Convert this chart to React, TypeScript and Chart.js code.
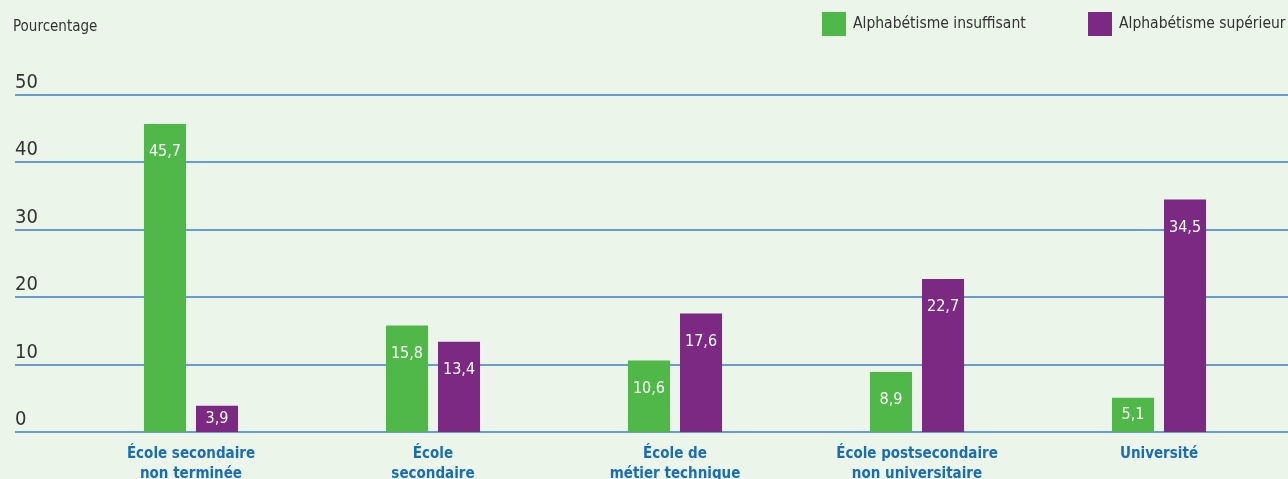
import React, { useEffect, useRef } from "react";
import { Chart, registerables } from "chart.js";

Chart.register(...registerables);

const categories: string[][] = [
  ["École secondaire", "non terminée"],
  ["École", "secondaire"],
  ["École de", "métier technique"],
  ["École postsecondaire", "non universitaire"],
  ["Université"],
];
const seriesNames = ["Alphabétisme insuffisant", "Alphabétisme supérieur"];
const insuffisant = [45.7, 15.8, 10.6, 8.9, 5.1];
const superieur = [3.9, 13.4, 17.6, 22.7, 34.5];
const yTicks = [0, 10, 20, 30, 40, 50];
const yTitle = "Pourcentage";

const GREEN = "#50b848";
const PURPLE = "#7b2983";
const BG = "#ebf5ea";
const GRID = "#3a7fc4";
const FONT = "'Liberation Sans Narrow', 'DejaVu Sans Condensed', 'Roboto Condensed', 'Liberation Sans', sans-serif";

const fmt = (v: number) => v.toFixed(1).replace(".", ",");

const overlay = {
  id: "overlay",
  beforeDraw(chart: any) {
    const { ctx, width, height } = chart;
    ctx.save();
    ctx.fillStyle = BG;
    ctx.fillRect(0, 0, width, height);
    const y = chart.scales.y;
    ctx.strokeStyle = GRID;
    ctx.lineWidth = 1.3;
    ctx.fillStyle = "#333333";
    ctx.font = `20px ${FONT}`;
    ctx.textBaseline = "alphabetic";
    ctx.textAlign = "left";
    for (const t of yTicks) {
      const py = Math.round(y.getPixelForValue(t));
      ctx.beginPath();
      ctx.moveTo(15, py);
      ctx.lineTo(width, py);
      ctx.stroke();
      ctx.fillText(String(t), 15, py - 7);
    }
    ctx.font = `15px ${FONT}`;
    ctx.fillText(yTitle, 13, 31);
    // legend
    const colors = [GREEN, PURPLE];
    const xs = [822, 1088];
    ctx.font = `15.5px ${FONT}`;
    ctx.textBaseline = "middle";
    chart.data.datasets.forEach((ds: any, i: number) => {
      ctx.fillStyle = colors[i];
      ctx.fillRect(xs[i], 12, 24, 24);
      ctx.fillStyle = "#333333";
      ctx.fillText(ds.label, xs[i] + 31, 24);
    });
    ctx.restore();
  },
  afterDatasetsDraw(chart: any) {
    const { ctx } = chart;
    ctx.save();
    ctx.fillStyle = "#ffffff";
    ctx.font = `16px ${FONT}`;
    ctx.textAlign = "center";
    ctx.textBaseline = "middle";
    chart.data.datasets.forEach((ds: any, di: number) => {
      const meta = chart.getDatasetMeta(di);
      meta.data.forEach((bar: any, i: number) => {
        const top = bar.y;
        const base = bar.base;
        const cy = Math.min(top + 28, (top + base) / 2);
        ctx.fillText(fmt(ds.data[i]), bar.x, cy);
      });
    });
    ctx.restore();
  },
};

export default function App() {
  const ref = useRef<HTMLCanvasElement>(null);
  useEffect(() => {
    document.body.style.margin = "0";
    const chart = new Chart(ref.current!, {
      type: "bar",
      data: {
        labels: categories,
        datasets: [
          { label: seriesNames[0], data: insuffisant, backgroundColor: GREEN },
          { label: seriesNames[1], data: superieur, backgroundColor: PURPLE },
        ],
      },
      options: {
        animation: false,
        responsive: false,
        devicePixelRatio: 1,
        layout: { padding: { top: 95, left: 70, right: 8, bottom: 0 } },
        datasets: { bar: { barPercentage: 0.808, categoryPercentage: 0.43 } },
        plugins: { legend: { display: false }, tooltip: { enabled: false } },
        scales: {
          x: {
            grid: { display: false },
            border: { display: false },
            afterFit: (s: any) => { s.height = 68; },
            ticks: {
              color: "#1b6db3",
              font: { family: FONT, size: 15, weight: "bold", lineHeight: 1.34 },
              padding: 4,
              maxRotation: 0,
              autoSkip: false,
            },
          },
          y: { display: false, min: 0, max: 50 },
        },
      },
      plugins: [overlay],
    });
    return () => chart.destroy();
  }, []);
  return (
    <div style={{ width: 1288, height: 479, overflow: "hidden", background: BG }}>
      <canvas ref={ref} width={1288} height={500} style={{ display: "block" }} />
    </div>
  );
}
